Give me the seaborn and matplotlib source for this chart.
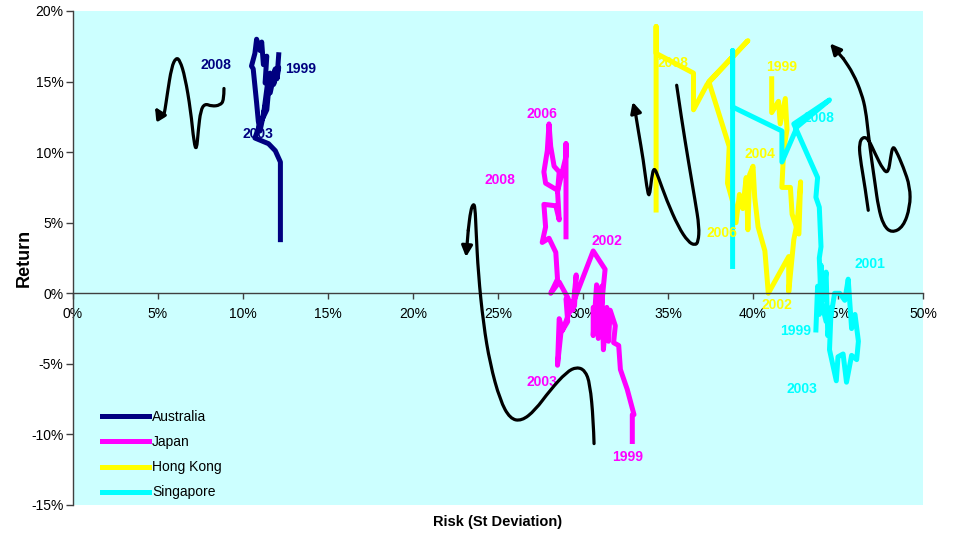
import numpy as np
import pandas as pd
import matplotlib
matplotlib.use("Agg")
import matplotlib.pyplot as plt
from matplotlib.path import Path
from matplotlib.patches import PathPatch
import seaborn as sns

# Risk / return paths of four markets, 1999-2008 (values in %)

countries = ["Australia", "Japan", "Hong Kong", "Singapore"]
colours = ["#000080", "#FF00FF", "#FFFF00", "#00FFFF"]

aus_path = [(12.1, 16.9), (12.0, 15.2), (12.1, 16.0), (11.8, 14.8), (11.9, 15.9),
            (11.6, 14.2), (11.5, 15.4), (11.2, 12.6), (11.4, 13.8), (11.0, 11.5),
            (10.9, 12.2), (10.8, 13.5), (10.6, 15.9), (10.5, 16.1), (10.7, 17.0),
            (10.8, 18.0), (11.0, 17.2), (11.1, 17.8), (11.2, 16.2), (11.4, 16.8),
            (11.3, 14.9), (11.6, 15.6), (11.4, 13.0), (11.0, 12.0), (10.7, 11.0),
            (11.5, 10.6), (11.9, 10.1), (12.2, 9.3), (12.2, 7.3), (12.2, 3.8)]

jap_path = [(32.9, -10.5), (32.9, -8.6), (33.0, -8.6), (32.6, -6.8), (32.2, -5.4),
            (32.1, -3.7), (31.8, -3.5), (31.9, -2.3), (31.6, -1.2), (31.5, -3.4),
            (31.4, -1.0), (31.2, -4.0), (31.1, 0.5), (30.9, -3.2), (30.8, 0.6),
            (30.6, -3.0), (30.6, -1.0), (31.0, -2.0), (31.3, 1.7), (30.6, 3.0),
            (29.8, 0.5), (28.8, -2.6), (28.6, -1.8), (28.5, -5.1), (28.7, -2.8),
            (29.1, -2.0), (29.0, -0.4), (29.5, -0.9), (29.6, 1.3), (29.4, -1.2),
            (29.1, -0.3), (28.6, 0.8), (28.1, 0.0), (28.5, 1.0), (28.4, 2.9),
            (28.0, 3.9), (27.6, 3.6), (27.8, 4.7), (27.7, 6.3), (28.4, 6.2),
            (28.6, 5.2), (28.5, 7.3), (27.8, 7.8), (27.7, 8.6), (27.9, 10.1),
            (28.0, 12.0), (28.1, 10.4), (28.3, 9.0), (28.6, 8.6), (28.5, 7.2),
            (29.0, 9.7), (29.0, 10.6), (29.0, 4.0)]

hk_path = [(41.1, 15.2), (41.1, 12.8), (41.5, 13.6), (41.6, 12.0), (41.9, 13.8),
           (42.0, 11.6), (41.8, 10.1), (41.7, 7.5), (42.2, 7.5), (42.3, 5.6),
           (42.7, 4.2), (42.8, 7.9), (42.6, 5.0), (42.4, 3.8), (42.1, 0.1),
           (42.1, 2.6), (40.9, 0.0), (40.7, 3.0), (40.3, 4.7), (40.1, 6.8),
           (40.0, 9.0), (39.8, 8.4), (39.7, 4.5), (39.6, 8.2), (39.4, 6.0),
           (39.2, 7.0), (39.0, 5.0), (38.8, 6.5), (38.5, 7.8), (38.6, 10.4),
           (37.4, 15.0), (39.7, 17.9), (37.3, 14.8), (36.5, 13.0), (36.5, 15.6),
           (34.3, 17.0), (34.3, 18.9), (34.3, 5.9)]

sg_path = [(43.7, -2.6), (43.8, 0.5), (43.9, -1.5), (44.0, 2.0), (44.1, -0.5),
           (44.3, 1.5), (44.4, -3.0), (44.6, -1.0), (44.5, -4.0), (44.9, -6.2),
           (45.0, -4.5), (45.3, -4.3), (45.5, -6.3), (45.8, -4.4), (46.1, -4.7),
           (46.2, -3.4), (46.0, -1.5), (45.8, -2.5), (45.6, 1.0), (45.4, -0.5),
           (45.1, 0.0), (44.8, 0.0), (44.6, -1.5), (44.3, -2.0), (44.0, -0.5),
           (43.9, 2.5), (44.0, 3.3), (43.9, 6.1), (43.7, 6.8), (43.8, 8.2),
           (42.4, 12.0), (44.5, 13.7), (42.6, 11.8), (41.7, 9.3), (41.7, 11.5),
           (38.8, 13.2), (38.8, 17.2), (38.8, 1.9)]

# year labels: (text, risk, return)
aus_years = [("2008", 8.4, 16.2), ("1999", 13.4, 15.9), ("2003", 10.9, 11.3)]
jap_years = [("2006", 27.6, 12.7), ("2008", 25.1, 8.05), ("2002", 31.4, 3.7),
             ("2003", 27.6, -6.3), ("1999", 32.6, -11.6)]
hk_years = [("2008", 35.3, 16.3), ("1999", 41.7, 16.0), ("2004", 40.4, 9.9),
            ("2006", 38.2, 4.3), ("2002", 41.4, -0.85)]
sg_years = [("2008", 43.9, 12.4), ("2001", 46.9, 2.05), ("1999", 42.5, -2.7),
            ("2003", 42.9, -6.75)]

# hand-drawn trend arrows (tail ... head)
aus_arrow = [(8.88, 14.51), (8.88, 13.68), (8.65, 13.32), (8.16, 13.25), (7.76, 13.44),
             (7.51, 12.97), (7.37, 11.55), (7.27, 10.13), (7.12, 10.61), (6.92, 12.97),
             (6.59, 15.33), (6.29, 16.51), (6.06, 16.70), (5.80, 16.04), (5.55, 14.15),
             (5.41, 12.97), (5.31, 12.45), (5.12, 12.62), (4.82, 13.2)]
jap_arrow = [(30.65, -10.65), (30.61, -9.0), (30.41, -6.40), (30.12, -5.46), (29.63, -5.22),
             (29.04, -5.57), (28.06, -6.87), (27.18, -8.29), (26.39, -9.05), (25.71, -8.89),
             (25.12, -7.58), (24.53, -4.98), (24.14, -2.15), (23.84, 1.39), (23.71, 4.46),
             (23.65, 6.12), (23.55, 6.35), (23.39, 5.88), (23.25, 4.46), (23.12, 2.57)]
hk_arrow = [(35.51, 14.74), (35.81, 12.26), (36.19, 9.43), (36.59, 6.59), (36.84, 4.70),
            (36.78, 3.64), (36.59, 3.40), (36.19, 3.64), (35.61, 4.70), (34.92, 6.59),
            (34.43, 8.24), (34.18, 8.95), (34.04, 8.24), (33.90, 6.71), (33.75, 7.53),
            (33.55, 9.43), (33.25, 11.55), (33.06, 12.97), (32.92, 13.56)]
sg_arrow = [(46.78, 5.88), (46.59, 7.53), (46.29, 9.66), (46.25, 10.61), (46.45, 11.08),
            (46.78, 10.96), (47.18, 9.90), (47.67, 8.72), (47.96, 8.53), (48.10, 9.66),
            (48.22, 10.42), (48.41, 10.13), (48.84, 8.95), (49.24, 7.53), (49.24, 6.12),
            (48.84, 4.70), (48.16, 4.27), (47.67, 4.82), (47.37, 6.12), (47.18, 7.77),
            (46.98, 9.43), (46.78, 11.32), (46.63, 12.97), (46.39, 14.15), (45.90, 15.57),
            (45.31, 16.63), (44.53, 17.70)]

x_ticks = [0, 5, 10, 15, 20, 25, 30, 35, 40, 45, 50]
x_ticklabels = ["0%", "5%", "10%", "15%", "20%", "25%", "30%", "35%", "40%", "45%", "50%"]
y_ticks = [-15, -10, -5, 0, 5, 10, 15, 20]
y_ticklabels = ["-15%", "-10%", "-5%", "0%", "5%", "10%", "15%", "20%"]

plt.rcParams["font.family"] = ["Liberation Sans", "DejaVu Sans"]

paths = [aus_path, jap_path, hk_path, sg_path]
frames = []
for name, path in zip(countries, paths):
    d = pd.DataFrame(path, columns=["risk", "ret"])
    d["country"] = name
    frames.append(d)
df = pd.concat(frames, ignore_index=True)

fig = plt.figure(figsize=(9.57, 5.35), dpi=100)
ax = fig.add_axes([73 / 957, 30 / 535, 850 / 957, 494 / 535])
ax.set_facecolor("#CCFFFF")

sns.lineplot(data=df, x="risk", y="ret", hue="country", hue_order=countries,
             palette=dict(zip(countries, colours)), sort=False, estimator=None,
             units="country", lw=3.6, ax=ax)

for years, col in zip([aus_years, jap_years, hk_years, sg_years], colours):
    for txt, xx, yy in years:
        ax.text(xx, yy, txt, color=col, fontsize=10, fontweight="bold",
                ha="center", va="center", zorder=5)


def smooth_arrow(ax, pts):
    # curved stroke through the sketch points (midpoint quadratic bezier)
    a = np.array(pts)
    verts = [tuple(a[0])]
    codes = [Path.MOVETO]
    for i in range(1, len(a) - 2):
        mid = (a[i] + a[i + 1]) / 2
        verts += [tuple(a[i]), tuple(mid)]
        codes += [Path.CURVE3, Path.CURVE3]
    verts.append(tuple(a[-2]))
    codes.append(Path.LINETO)
    ax.add_patch(PathPatch(Path(verts, codes), fill=False, edgecolor="black",
                           lw=2.3, capstyle="round", joinstyle="round", zorder=6))
    ax.annotate("", xy=tuple(a[-1]), xytext=tuple(a[-2]),
                arrowprops=dict(arrowstyle="-|>", color="black", lw=2.3,
                                mutation_scale=16, shrinkA=0, shrinkB=0),
                zorder=6)


for arr in [aus_arrow, jap_arrow, hk_arrow, sg_arrow]:
    smooth_arrow(ax, arr)

ax.set_xlim(0, 50)
ax.set_ylim(-15, 20)
ax.set_xticks(x_ticks)
ax.set_xticklabels(x_ticklabels)
ax.set_yticks(y_ticks)
ax.set_yticklabels(y_ticklabels)

for s in ["top", "right"]:
    ax.spines[s].set_visible(False)
ax.spines["bottom"].set_position(("data", 0))
for s in ["bottom", "left"]:
    ax.spines[s].set_color("#404040")
    ax.spines[s].set_linewidth(1.0)
ax.tick_params(axis="x", labelsize=10, length=4, width=1, color="#404040", pad=6)
ax.tick_params(axis="y", labelsize=10, length=5, width=1, color="#404040", pad=2)

ax.set_xlabel("")
ax.set_ylabel("")
fig.text(498 / 957, 1 - 522 / 535, "Risk (St Deviation)", fontsize=10.5,
         fontweight="bold", ha="center", va="center")
fig.text(24 / 957, 1 - 258 / 535, "Return", fontsize=13, fontweight="bold",
         rotation=90, ha="center", va="center")

old = ax.get_legend()
handles = old.legend_handles
for h in handles:
    h.set_linewidth(3.6)
labels = [t.get_text() for t in old.get_texts()]
ax.legend(handles, labels, loc="upper left", bbox_to_anchor=(0.034, 0.192),
          frameon=False, fontsize=10, handlelength=3.4, handletextpad=0.2,
          labelspacing=0.8, borderpad=0, borderaxespad=0)

fig.savefig("out.png", dpi=100)
